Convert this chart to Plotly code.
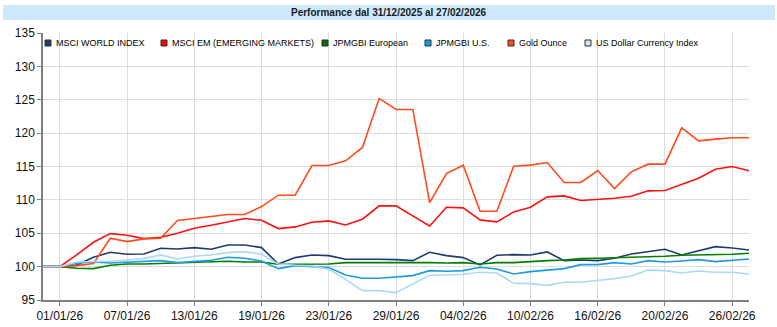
import plotly.graph_objects as go

dates = ["31/12/25", "01/01/26", "02/01/26", "05/01/26", "06/01/26", "07/01/26", "08/01/26",
         "09/01/26", "12/01/26", "13/01/26", "14/01/26", "15/01/26", "16/01/26", "19/01/26",
         "20/01/26", "21/01/26", "22/01/26", "23/01/26", "26/01/26", "27/01/26", "28/01/26",
         "29/01/26", "30/01/26", "02/02/26", "03/02/26", "04/02/26", "05/02/26", "06/02/26",
         "09/02/26", "10/02/26", "11/02/26", "12/02/26", "13/02/26", "16/02/26", "17/02/26",
         "18/02/26", "19/02/26", "20/02/26", "23/02/26", "24/02/26", "25/02/26", "26/02/26",
         "27/02/26"]

tick_labels = ["01/01/26", "07/01/26", "13/01/26", "19/01/26", "23/01/26", "29/01/26",
               "04/02/26", "10/02/26", "16/02/26", "20/02/26", "26/02/26"]

msci_world = [100, 100, 100.25, 101.4, 102.15, 101.85, 101.9, 102.75, 102.65, 102.85, 102.6,
              103.25, 103.25, 102.85, 100.4, 101.35, 101.75, 101.65, 101.1, 101.15, 101.1,
              101.05, 100.9, 102.15, 101.65, 101.35, 100.25, 101.7, 101.8, 101.75, 102.2,
              100.9, 101.0, 100.9, 101.25, 101.9, 102.2, 102.6, 101.75, 102.4, 103.0, 102.8, 102.5]

msci_em = [100, 100, 101.75, 103.65, 104.95, 104.7, 104.2, 104.4, 105.0, 105.75, 106.2,
           106.65, 107.2, 106.95, 105.7, 105.95, 106.65, 106.85, 106.25, 107.1, 109.1,
           109.1, 107.6, 106.1, 108.9, 108.8, 107.0, 106.7, 108.2, 108.9, 110.45,
           110.6, 109.9, 110.05, 110.25, 110.55, 111.35, 111.4, 112.35, 113.25, 114.6, 115.0, 114.35]

jpm_gbi_eur = [100, 100, 99.75, 99.7, 100.2, 100.4, 100.4, 100.5, 100.55, 100.6, 100.7,
               100.8, 100.7, 100.7, 100.35, 100.35, 100.35, 100.4, 100.6, 100.6, 100.65,
               100.7, 100.7, 100.6, 100.55, 100.6, 100.4, 100.6, 100.6, 100.8, 100.9,
               101.0, 101.2, 101.25, 101.3, 101.4, 101.45, 101.55, 101.7, 101.75, 101.75, 101.85, 102.0]

jpm_gbi_us = [100, 100, 100.5, 100.7, 100.55, 100.65, 100.7, 100.9, 100.6, 100.75, 100.95,
              101.4, 101.25, 100.85, 99.7, 100.15, 100.0, 99.85, 98.75, 98.25, 98.25,
              98.4, 98.65, 99.4, 99.3, 99.4, 99.9, 99.65, 98.9, 99.25, 99.45,
              99.7, 100.3, 100.3, 100.6, 100.4, 100.9, 100.7, 100.85, 101.05, 100.75, 100.95, 101.15]

gold_ounce = [100, 100, 100.15, 100.45, 104.25, 103.75, 104.15, 104.25, 106.9, 107.2, 107.6,
              107.8, 107.8, 109.0, 110.7, 110.7, 115.15, 115.15, 115.85, 117.85, 125.2,
              123.55, 123.55, 109.6, 113.95, 115.2, 108.3, 108.3, 115.05, 115.2, 115.6,
              112.6, 112.6, 114.4, 111.7, 114.2, 115.35, 115.35, 120.8, 118.85, 119.1, 119.3, 119.3]

usd_index = [100, 100, 100.7, 100.75, 100.8, 101.0, 101.2, 101.75, 101.15, 101.55, 101.75,
             102.1, 102.25, 101.85, 100.4, 100.2, 100.1, 99.6, 98.1, 96.4, 96.4,
             96.1, 97.4, 98.7, 98.75, 98.85, 99.15, 99.05, 97.5, 97.45, 97.2,
             97.65, 97.65, 97.9, 98.2, 98.6, 99.5, 99.4, 99.05, 99.35, 99.15, 99.15, 98.9]

series_names = ["MSCI WORLD INDEX", "MSCI EM (EMERGING MARKETS)", "JPMGBI European",
                "JPMGBI U.S.", "Gold Ounce", "US Dollar Currency Index"]
series_values = [msci_world, msci_em, jpm_gbi_eur, jpm_gbi_us, gold_ounce, usd_index]

line_colors = ["#1F3B6E", "#FF1010", "#008000", "#1E9BE0", "#FF4A1C", "#AAD9F7"]
marker_colors = ["#1F3B6E", "#FF0000", "#007000", "#1E9BE0", "#FF4A1C", "#CFE8F8"]

title_text = "Performance dal 31/12/2025 al 27/02/2026"

W, H = 777, 327
ML, MR, MT, MB = 43, 28, 33, 27
PW, PH = W - ML - MR, H - MT - MB


def px(xp):
    return (xp - ML) / PW


def py(yp):
    return (H - MB - yp) / PH


FONT = "Liberation Sans, Arial, sans-serif"

fig = go.Figure()
for name, vals, col in zip(series_names, series_values, line_colors):
    fig.add_trace(go.Scatter(x=dates, y=vals, mode="lines", name=name,
                             line=dict(color=col, width=1.6), showlegend=False))

shapes = []
annotations = []

# title band
shapes.append(dict(type="rect", xref="paper", yref="paper", x0=px(3), x1=px(775),
                   y0=py(20), y1=py(5), fillcolor="#CDE8FA", line=dict(width=0), layer="below"))
annotations.append(dict(text="<b>" + title_text + "</b>", xref="paper", yref="paper",
                        x=px(389), y=py(12.5), xanchor="center", yanchor="middle",
                        showarrow=False, font=dict(family=FONT, size=10, color="#1a1a1a")))

# legend
legend_marker_x = [48, 164, 325, 428, 511, 588]
legend_y = 43
for name, mcol, mx in zip(series_names, marker_colors, legend_marker_x):
    shapes.append(dict(type="rect", xref="paper", yref="paper",
                       x0=px(mx - 3), x1=px(mx + 3), y0=py(legend_y + 3), y1=py(legend_y - 3),
                       fillcolor=mcol, line=dict(color="#333333", width=1)))
    annotations.append(dict(text=name, xref="paper", yref="paper", x=px(mx + 6), y=py(legend_y),
                            xanchor="left", yanchor="middle", showarrow=False,
                            font=dict(family=FONT, size=9, color="#000000")))

fig.update_layout(
    width=W, height=H,
    margin=dict(l=ML, r=MR, t=MT, b=MB, autoexpand=False),
    paper_bgcolor="white", plot_bgcolor="white",
    shapes=shapes, annotations=annotations,
    showlegend=False,
    xaxis=dict(type="category", range=[0, len(dates) - 1], tickmode="array",
               tickvals=tick_labels, showgrid=True, gridcolor="#DDDDDD", gridwidth=1,
               showline=True, linecolor="#808080", linewidth=1.5, automargin=False,
               ticks="outside", ticklen=4, tickcolor="#808080",
               tickfont=dict(family=FONT, size=12, color="#111111"), zeroline=False),
    yaxis=dict(range=[95, 135], dtick=5, tick0=95, showgrid=True, gridcolor="#DDDDDD",
               gridwidth=1, showline=True, linecolor="#808080", linewidth=1.5, automargin=False,
               ticks="outside", ticklen=4, tickcolor="#808080",
               tickfont=dict(family=FONT, size=12, color="#111111"), zeroline=False),
)

fig.write_html("out.html")
